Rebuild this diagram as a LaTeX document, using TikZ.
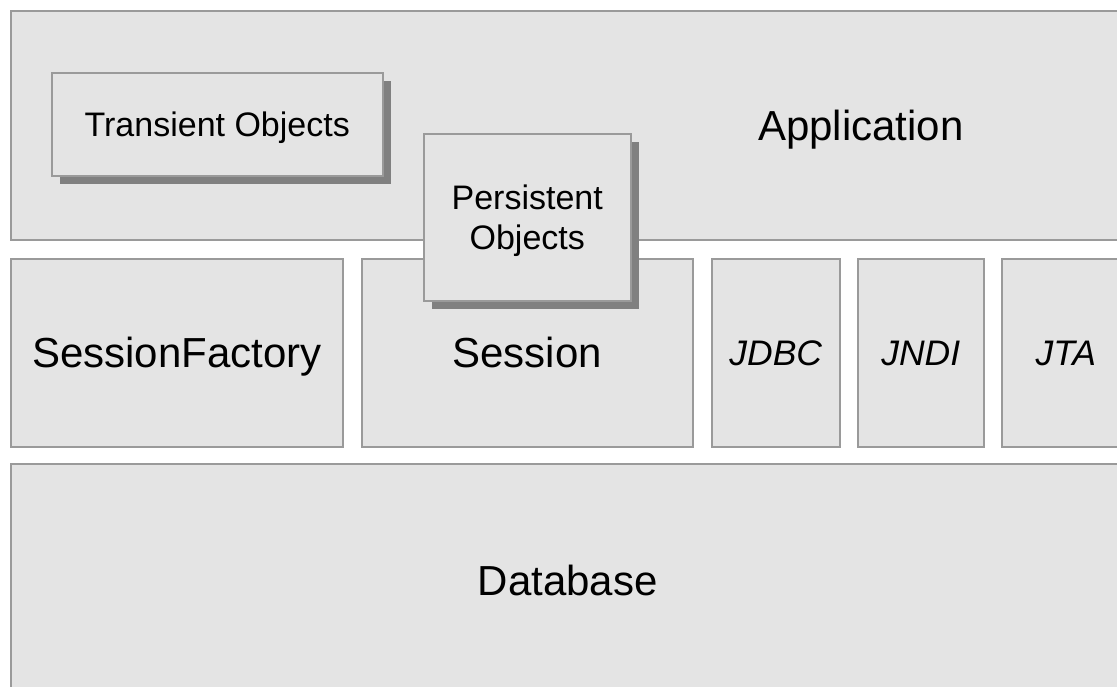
\documentclass[tikz,border=0pt]{standalone}
\usepackage{fontspec}
\setmainfont{Liberation Sans}
\usetikzlibrary{shadows}
\definecolor{layerfill}{HTML}{E4E4E4}
\definecolor{layerline}{HTML}{9A9A9A}
\definecolor{layershadow}{HTML}{808080}
\begin{document}
\begin{tikzpicture}[x=1pt,y=-1pt,
		box/.style={draw=layerline, line width=1.5pt, fill=layerfill, anchor=north west, inner sep=0pt},
		layer/.style={box, text height=30pt, text depth=0pt, font=\fontsize{42}{50}\selectfont},
		api/.style={box, text height=25.5pt, text depth=0pt, font=\fontsize{35.5}{42}\selectfont\itshape},
		objects/.style={box, align=center, font=\fontsize{34}{40}\selectfont, drop shadow={shadow xshift=8pt, shadow yshift=-8pt, fill=layershadow, opacity=1}}]
			\useasboundingbox (0,0) rectangle (1117,686);
			\clip (0,0) rectangle (1117,686);
			
			% top layer
			\node[layer, minimum width=1700pt, minimum height=229pt] (app) at (10,10) {Application};
			
			% middle layer
			\node[layer, minimum width=332pt, minimum height=188pt] (factory) at (10,258) {SessionFactory};
			\node[layer, minimum width=331pt, minimum height=188pt] (session) at (361,258) {Session};
			\node[api, minimum width=128pt, minimum height=188pt] (jdbc) at (711,258) {JDBC};
			\node[api, minimum width=126pt, minimum height=188pt] (jndi) at (857,258) {JNDI};
			\node[api, minimum width=128pt, minimum height=188pt] (jta) at (1001,258) {JTA};
			
			% bottom layer
			\node[layer, minimum width=1114pt, minimum height=234pt] (db) at (10,463) {Database};
			
			% objects
			\node[objects, text height=24.3pt, text depth=0pt, minimum width=331pt, minimum height=103pt] (transient) at (51,72) {Transient Objects};
			\node[objects, text depth=0pt, minimum width=207pt, minimum height=167pt] (persistent) at (423,133) {Persistent\\Objects};
		\end{tikzpicture}
\end{document}
